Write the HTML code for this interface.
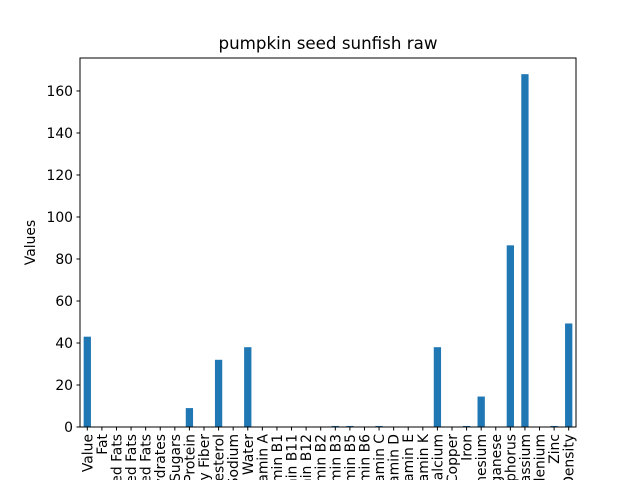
<!DOCTYPE html>
<html><head><meta charset="utf-8"><style>
body{margin:0;background:#fff;overflow:hidden;width:640px;height:480px;}
svg{display:block;overflow:hidden;}
svg text{font-family:"DejaVu Sans","Liberation Sans",sans-serif;}
</style></head><body>
<svg id="chart" width="640" height="480" xmlns="http://www.w3.org/2000/svg">
<rect width="640" height="480" fill="#fff"/>
<text x="328" y="49" text-anchor="middle" font-size="16.7">pumpkin seed sunfish raw</text>
<text transform="translate(35,242.5) rotate(-90)" text-anchor="middle" font-size="13.9">Values</text>
<g id="bars"></g><g id="yticks"></g><g id="xticks"></g>
<rect x="80" y="58" width="496" height="369" fill="none" stroke="#000" stroke-width="1"/>
</svg>
<script>
const categories=["Value","Fat","Saturated Fats","Monounsaturated Fats","Polyunsaturated Fats","Carbohydrates","Sugars","Protein","Dietary Fiber","Cholesterol","Sodium","Water","Vitamin A","Vitamin B1","Vitamin B11","Vitamin B12","Vitamin B2","Vitamin B3","Vitamin B5","Vitamin B6","Vitamin C","Vitamin D","Vitamin E","Vitamin K","Calcium","Copper","Iron","Magnesium","Manganese","Phosphorus","Potassium","Selenium","Zinc","Nutrition Density"];
const values=[43,0,0,0,0,0,0,9,0,32,0,38,0,0,0,0,0,0.5,0.5,0,0.5,0,0,0,38,0,0.5,14.5,0,86.5,168,0,0.5,49.3];
const yTicks=[0,20,40,60,80,100,120,140,160];
const NS="http://www.w3.org/2000/svg";
const L=80,R=576,T=58,B=427,yMax=175.7;
const y=v=>B-(v/yMax)*(B-T);
const step=(R-L)/categories.length;
const x=i=>L+step*(i+0.5);
const bars=document.getElementById('bars'),yt=document.getElementById('yticks'),xt=document.getElementById('xticks');
function mk(tag,attrs,parent){const e=document.createElementNS(NS,tag);for(const k in attrs)e.setAttribute(k,attrs[k]);parent.appendChild(e);return e;}
values.forEach((v,i)=>{
 const r=mk('rect',{x:x(i)-step/4,y:y(v),width:step/2,height:B-y(v),fill:'#1f77b4'},bars);
 
 
});
yTicks.forEach(t=>{
 const l=mk('line',{x1:L-3.5,x2:L,y1:y(t),y2:y(t),stroke:'#000'},yt);
 
 
 const tx=mk('text',{x:L-7,y:y(t)+5,'text-anchor':'end','font-size':13.9},yt);
 tx.textContent=t;
 
 
});
categories.forEach((c,i)=>{
 const l=mk('line',{x1:x(i),x2:x(i),y1:B,y2:B+3.5,stroke:'#000'},xt);
 
 
 const tx=mk('text',{transform:`translate(${x(i)+5},${B+7}) rotate(-90)`,'text-anchor':'end','font-size':13.9},xt);
 tx.textContent=c;
 
 
});
</script>
</body></html>
